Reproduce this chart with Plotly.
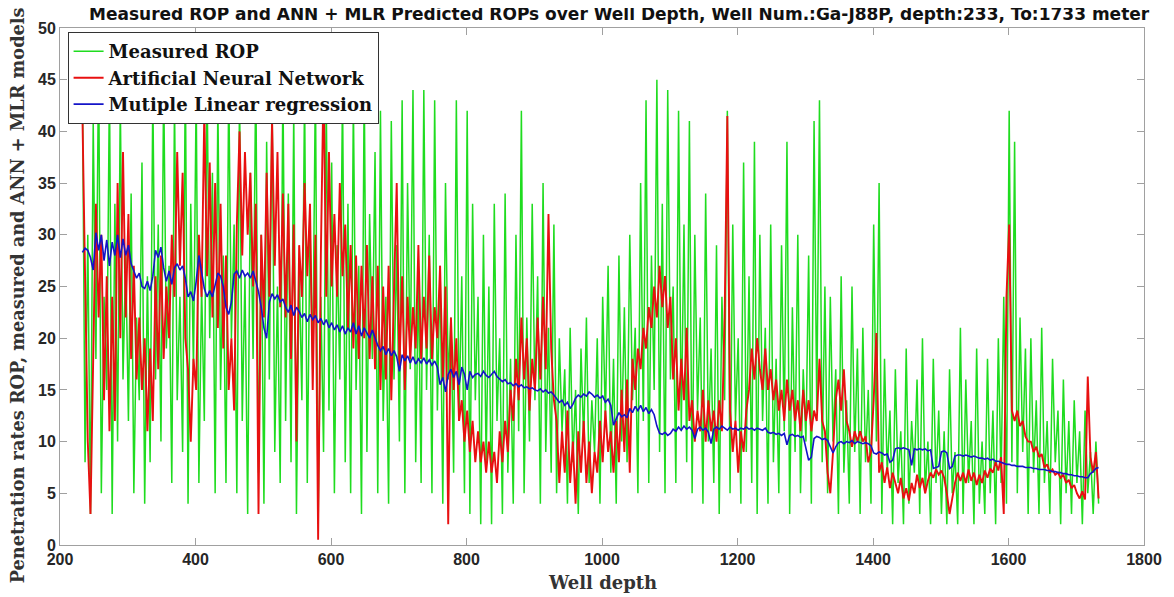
import plotly.graph_objects as go

# Well depth samples (m), every 4 m from 233 to 1733
depth = list(range(233, 1734, 4))

# Measured ROP
measured_rop = [
    46, 8, 30, 3, 41, 18, 47, 5, 24, 15, 45, 3, 33, 10, 43, 16, 28, 12, 34, 5, 22, 14, 37, 4, 26,
    8, 44, 16, 31, 10, 45, 19, 27, 6, 43, 14, 24, 9, 46, 4, 33, 17, 44, 6, 25, 12, 45, 20, 36, 5,
    43, 15, 28, 6, 45, 20, 31, 5, 44, 12, 26, 3, 36, 18, 46, 7, 30, 4, 39, 16, 44, 9, 25, 6, 45,
    12, 34, 8, 42, 3, 27, 14, 44, 6, 31, 17, 45, 2, 24, 9, 43, 13, 37, 5, 29, 16, 44, 8, 33, 5,
    43, 15, 27, 3, 45, 9, 32, 18, 38, 5, 42, 12, 24, 4, 41, 16, 29, 10, 43, 5, 35, 17, 44, 8, 26,
    6, 44, 15, 30, 5, 43, 13, 27, 4, 35, 16, 22, 7, 43, 12, 26, 5, 42, 3, 33, 14, 24, 2, 30, 8,
    25, 2, 33, 12, 20, 3, 34, 7, 18, 4, 30, 11, 42, 5, 22, 10, 33, 14, 26, 4, 35, 9, 21, 7, 31,
    5, 20, 11, 17, 4, 21, 8, 15, 3, 19, 10, 22, 6, 14, 9, 20, 4, 24, 12, 27, 7, 18, 4, 28, 10,
    23, 8, 30, 14, 21, 5, 35, 12, 43, 6, 28, 15, 45, 9, 33, 5, 44, 16, 25, 6, 42, 11, 31, 8, 41,
    5, 30, 13, 22, 4, 34, 10, 19, 6, 29, 3, 24, 14, 42, 5, 31, 12, 20, 4, 37, 9, 26, 6, 39, 3,
    30, 12, 21, 4, 31, 8, 18, 5, 29, 11, 39, 3, 23, 9, 30, 5, 17, 10, 28, 4, 41, 13, 43, 8, 25,
    5, 24, 10, 17, 3, 26, 7, 14, 4, 25, 9, 19, 3, 21, 8, 15, 4, 31, 10, 35, 3, 18, 7, 13, 2,
    17, 6, 11, 2, 19, 4, 12, 7, 16, 3, 20, 5, 10, 2, 18, 6, 13, 3, 11, 2, 17, 5, 9, 2, 21,
    3, 16, 6, 12, 2, 19, 4, 10, 3, 18, 5, 13, 2, 20, 6, 24, 4, 42, 8, 39, 5, 22, 9, 19, 3,
    20, 7, 14, 3, 21, 6, 12, 3, 18, 8, 13, 2, 16, 5, 12, 3, 14, 6, 11, 2, 13, 5, 9, 3, 10, 4,
]

# Artificial Neural Network prediction
ann_rop = [
    42, 25, 10, 3, 20, 33, 22, 30, 14, 26, 11, 24, 12, 35, 20, 38, 22, 32, 18, 27, 16, 22, 15, 20, 11,
    19, 12, 26, 17, 28, 18, 25, 20, 30, 24, 38, 27, 36, 20, 17, 10, 18, 15, 30, 24, 42, 26, 37, 22, 35,
    21, 33, 19, 28, 15, 20, 13, 31, 40, 28, 38, 30, 36, 25, 33, 3, 30, 22, 36, 24, 41, 27, 38, 23, 34,
    22, 33, 18, 31, 10, 29, 24, 35, 26, 33, 15, 30, 0.5, 28, 45, 24, 38, 25, 32, 24, 35, 26, 31, 21, 29,
    19, 28, 18, 27, 20, 29, 18, 26, 17, 27, 15, 25, 16, 27, 14, 24, 35, 17, 26, 15, 24, 18, 23, 19, 29,
    18, 24, 19, 28, 18, 23, 20, 27, 16, 25, 2, 22, 15, 20, 12, 14, 10, 13, 9, 12, 8, 11, 8, 10, 7,
    10, 7, 9, 6, 11, 8, 12, 9, 15, 12, 18, 14, 22, 16, 20, 13, 18, 15, 22, 16, 24, 17, 32, 19, 14,
    12, 6, 11, 7, 13, 6, 10, 4, 11, 7, 12, 6, 10, 5, 9, 7, 12, 8, 13, 9, 11, 7, 12, 8, 15,
    9, 16, 7, 18, 15, 19, 17, 21, 19, 23, 21, 25, 22, 27, 23, 26, 21, 24, 16, 20, 13, 18, 14, 21, 12,
    14, 10, 13, 11, 15, 10, 14, 11, 13, 10, 14, 11, 22, 41.5, 13, 9, 12, 7, 11, 9, 13, 15, 19, 16, 20,
    17, 15, 19, 15, 17, 14, 16, 13, 15, 12, 16, 13, 15, 12, 14, 11, 15, 12, 14, 11, 13, 12, 18, 12, 11,
    7, 5, 9, 14, 16, 13, 17, 12, 11, 9.5, 11, 10, 11, 10, 10.5, 8, 9, 14, 20.5, 7, 8, 6, 7.5, 5.5, 7,
    6, 5, 6.5, 4.5, 5.5, 4.3, 6, 5, 6.8, 5.5, 6.5, 5, 6.2, 7, 6.5, 7.3, 6.8, 7.2, 6.5, 5, 3, 4.5, 6, 7, 6.2,
    7, 6, 7.3, 6.2, 7, 5.8, 6.8, 6, 7.2, 6.5, 7.4, 7, 8, 7.2, 8.5, 3, 24, 31, 13, 12, 13, 11.5, 12, 10.5, 10,
    10, 9, 9.5, 8.5, 8.8, 7.5, 7.8, 7, 7.3, 6.8, 7, 6.5, 6.8, 6, 6.3, 5.5, 5.8, 5, 4.5, 5.2, 4.4, 16.3, 8.5, 7, 9, 4.5,
]

# Multiple Linear Regression prediction
mlr_rop = [
    28.3, 28.7, 28.5, 27.8, 26.6, 30.2, 28.5, 30, 27.5, 29.5, 27, 29.3, 28, 30, 27.8, 29.6, 28, 29, 27.2, 26.5, 25.8, 26.3, 25, 24.8, 25.5,
    24.6, 26, 28.5, 27.8, 28.8, 26.8, 25.5, 26.5, 25.2, 26.8, 27.2, 26.6, 27, 25.8, 24, 24.5, 23.6, 25.5, 28, 26.5, 24.8, 24, 24.6, 24, 25.2,
    26.3, 26, 25, 23, 22.3, 23.5, 26.2, 26.5, 25.8, 26.6, 26, 26.3, 25.8, 26.5, 25.5, 24.5, 23, 21, 20, 23.5, 24.3, 23.8, 24.2, 23.5, 23.8,
    23, 22.5, 23.2, 22.2, 23, 22.6, 22, 22.4, 21.6, 22.3, 21.8, 22.2, 21.5, 21.9, 21.3, 21.8, 21, 21.5, 20.8, 21.3, 20.6, 21.2, 20.4, 21, 20.6,
    21.5, 20.4, 21.2, 20.2, 21, 20.5, 20, 20.8, 20, 19.3, 18.8, 19.2, 18.4, 19, 18.3, 18.8, 18.2, 16.8, 18.4, 17.8, 18.3, 17.6, 18.2, 17.5, 18,
    17.6, 18.1, 17.5, 17.9, 17.4, 17.8, 17.2, 15.5, 16.2, 14.8, 16.5, 17, 16.2, 16.8, 15.5, 17.2, 16.5, 15, 16.8, 16.2, 16.5, 16.6, 16.3, 16.8, 16.4,
    16.2, 16.5, 16.8, 16.3, 16, 15.8, 16, 15.6, 15.7, 15.4, 15.6, 15.3, 15.5, 15.2, 15.3, 15.1, 15.2, 15, 14.9, 15.1, 14.8, 15, 14.7, 14.8, 14.5,
    14.2, 13.8, 14, 13.5, 13.8, 13.2, 13.6, 14.2, 14.5, 14.3, 14.6, 14.4, 14.8, 14.6, 14.3, 14.5, 14.2, 14.4, 13.8, 14.1, 13.5, 11.6, 12.2, 12.8, 12.4,
    12.6, 12.3, 13.2, 12.8, 13.4, 13, 13.5, 12.9, 13.3, 12.7, 13.1, 12.6, 11.5, 10.8, 10.7, 10.9, 10.6, 10.8, 11.2, 11, 11.4, 11.1, 11.5, 11.2, 11.4,
    11.1, 10.3, 11.2, 11.4, 11.1, 11.3, 10.9, 9.8, 11.2, 11.4, 11.2, 11.5, 11.3, 11.1, 11.4, 11.2, 11.3, 11.1, 11.3, 11.2, 11.4, 11.2, 11.3, 11.1, 11.3,
    11.2, 11.1, 11.3, 10.9, 10.8, 10.9, 10.7, 10.8, 10.6, 10.8, 9.7, 10.6, 10.7, 10.5, 10.6, 10.4, 10.5, 9.2, 8.2, 8.5, 10.3, 10.5, 10.4, 10.2, 10.3,
    10.1, 9.4, 8.9, 9.5, 9.9, 10, 9.8, 10, 9.9, 10.1, 9.8, 10, 9.9, 9.8, 9.9, 9.8, 9.6, 8.9, 8.8, 9, 8.9, 8.7, 8.8, 8, 8.2,
    9.3, 9.4, 9.3, 9.4, 9.3, 9.2, 7.7, 9.3, 9.2, 9.3, 9.2, 9.3, 9.1, 9.2, 7.4, 7.5, 7.6, 9, 9.1, 8.9, 7.4, 7.6, 8.6, 8.7, 8.7,
    8.6, 8.7, 8.6, 8.5, 8.6, 8.5, 8.4, 8.4, 8.3, 8.4, 8.2, 8.3, 8.1, 8.1, 8, 7.9, 7.8, 7.8, 7.7, 7.7, 7.6, 7.6, 7.6, 7.5, 7.5,
    7.5, 7.4, 7.4, 7.3, 7.3, 7.3, 7.2, 7.2, 7.1, 7.1, 7, 7, 6.9, 6.9, 6.8, 6.8, 6.7, 6.7, 6.6, 6.6, 6.5, 6.5, 6.9, 7.1, 7.4, 7.5,
]

assert len(depth) == len(measured_rop) == len(ann_rop) == len(mlr_rop), (
    len(depth), len(measured_rop), len(ann_rop), len(mlr_rop))

x_ticks = [200, 400, 600, 800, 1000, 1200, 1400, 1600, 1800]
y_ticks = [0, 5, 10, 15, 20, 25, 30, 35, 40, 45, 50]

title_text = ("Measured ROP and ANN + MLR Predicted ROPs over Well Depth, "
              "Well Num.:Ga-J88P, depth:233, To:1733 meter")

fig = go.Figure()
fig.add_trace(go.Scatter(x=depth, y=measured_rop, mode="lines", name="<b>Measured ROP</b>",
                         line=dict(color="#1fdc1f", width=1.5)))
fig.add_trace(go.Scatter(x=depth, y=ann_rop, mode="lines", name="<b>Artificial Neural Network</b>",
                         line=dict(color="#e81010", width=1.9)))
fig.add_trace(go.Scatter(x=depth, y=mlr_rop, mode="lines", name="<b>Mutiple Linear regression</b>",
                         line=dict(color="#1414c8", width=1.6)))

axis_common = dict(showline=True, mirror="ticks", linecolor="#a0a0a0", linewidth=1,
                   ticks="inside", ticklen=7, tickcolor="#a0a0a0", showgrid=False,
                   zeroline=False,
                   tickfont=dict(family="Liberation Sans, Arial, sans-serif", size=16,
                                 color="#262626"))

# the page has an 8 px body margin, so the figure is 8 px smaller on each axis
fig.update_layout(
    width=1166, height=589,
    margin=dict(l=52, r=23, t=20, b=52),
    paper_bgcolor="white", plot_bgcolor="white",
    showlegend=True,
    legend=dict(x=0.007, y=0.992, xanchor="left", yanchor="top",
                bgcolor="white", bordercolor="#333333", borderwidth=1,
                font=dict(family="DejaVu Serif, serif", size=18, color="#111111"),
                tracegroupgap=0, itemwidth=30),
    xaxis=dict(range=[200, 1800], tickvals=x_ticks,
               ticktext=["<b>%d</b>" % v for v in x_ticks], **axis_common),
    yaxis=dict(range=[0, 50], tickvals=y_ticks,
               ticktext=["<b>%d</b>" % v for v in y_ticks], **axis_common),
    annotations=[
        dict(text="<b>" + title_text + "</b>", xref="paper", yref="paper",
             x=0.516, y=1.0, xanchor="center", yanchor="bottom", yshift=2, showarrow=False,
             font=dict(family="DejaVu Sans, sans-serif", size=17, color="#111111")),
        dict(text="<b>Well depth</b>", xref="paper", yref="paper",
             x=0.5, y=-0.072, xanchor="center", yanchor="middle", showarrow=False,
             font=dict(family="DejaVu Serif, serif", size=18, color="#333333")),
        dict(text="<b>Penetration rates ROP, measured and ANN + MLR models</b>",
             xref="paper", yref="paper", x=-0.0385, y=0.4836, xanchor="center",
             yanchor="middle", textangle=-90, showarrow=False,
             font=dict(family="DejaVu Serif, serif", size=17.7, color="#333333")),
    ],
)

fig.write_html("out.html")
